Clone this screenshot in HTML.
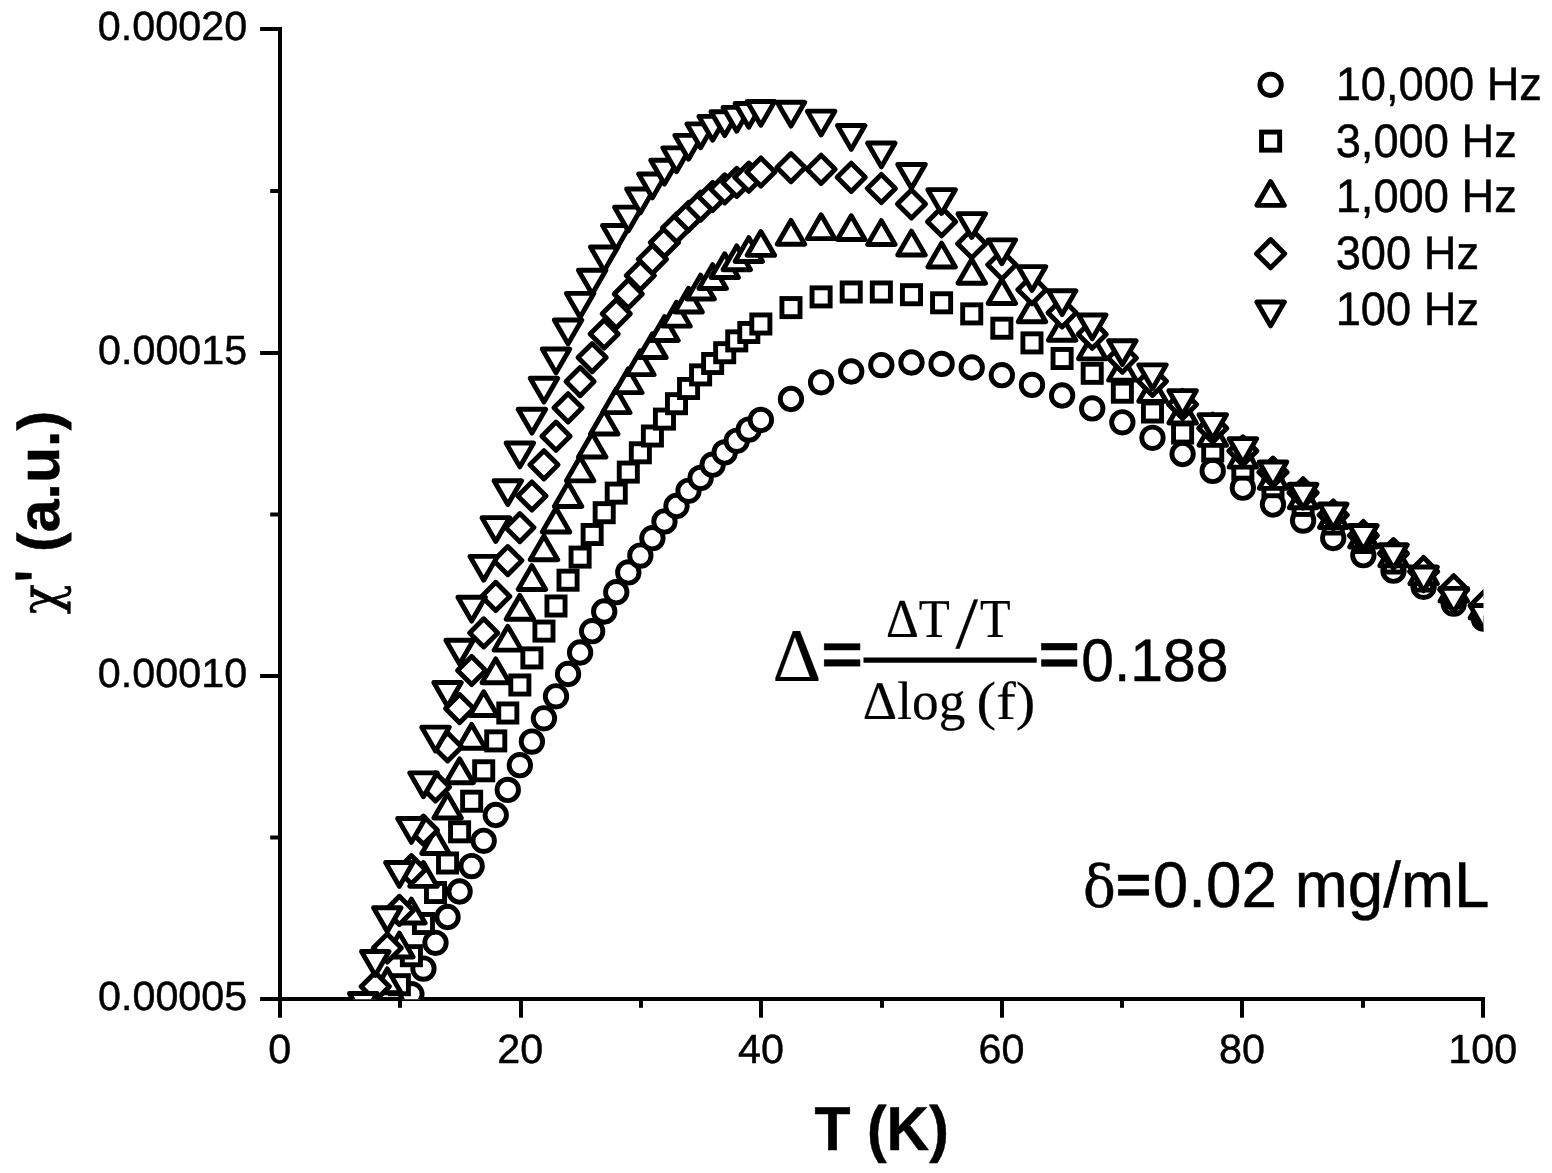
<!DOCTYPE html>
<html lang="en"><head><meta charset="utf-8"><title>AC susceptibility vs temperature</title>
<style>
html,body{margin:0;padding:0;background:#fff;}
body{width:1552px;height:1173px;overflow:hidden;}
svg{display:block;}
text{font-family:"Liberation Sans",sans-serif;fill:#000;stroke:#000;stroke-width:0.45px;stroke-linejoin:round;font-kerning:none;font-variant-ligatures:none;white-space:pre;}
text.b{font-weight:bold;}
text.sf{font-family:"Liberation Serif","DejaVu Serif",serif;stroke-width:0.2px;}
text.dj{font-family:"DejaVu Serif","Liberation Serif",serif;}
.mk{fill:#fff;stroke:#000;stroke-width:4.9;}
.ax{stroke:#000;stroke-width:4;fill:none;stroke-linecap:butt;}
</style></head><body>
<svg width="1552" height="1173" viewBox="0 0 1552 1173" role="img" aria-label="AC susceptibility versus temperature at five frequencies">
<rect width="1552" height="1173" fill="#fff"/>
<defs><clipPath id="plot"><rect x="280" y="0" width="1203.4" height="999.3"/></clipPath></defs>
<g class="ax">
<path d="M280 27V1001"/>
<path d="M278 999H1485"/>
<path d="M260.1 29H280"/>
<path d="M260.1 353H280"/>
<path d="M260.1 676H280"/>
<path d="M260.1 999H280"/>
<path d="M270.2 191H280"/>
<path d="M270.2 514.5H280"/>
<path d="M270.2 837.5H280"/>
<path d="M280 999V1017.7"/>
<path d="M521 999V1017.7"/>
<path d="M761 999V1017.7"/>
<path d="M1002 999V1017.7"/>
<path d="M1242 999V1017.7"/>
<path d="M1483 999V1017.7"/>
<path d="M400 999V1007.8"/>
<path d="M641 999V1007.8"/>
<path d="M882 999V1007.8"/>
<path d="M1122 999V1007.8"/>
<path d="M1363 999V1007.8"/>
</g>
<g clip-path="url(#plot)">
<g class="mk" id="s10000" stroke-linejoin="miter">
<circle cx="399.35" cy="1020" r="10.7"/>
<circle cx="411.4" cy="994.2" r="10.7"/>
<circle cx="423.45" cy="968.6" r="10.7"/>
<circle cx="435.5" cy="942.8" r="10.7"/>
<circle cx="447.55" cy="917" r="10.7"/>
<circle cx="459.6" cy="891.5" r="10.7"/>
<circle cx="471.65" cy="866.1" r="10.7"/>
<circle cx="483.7" cy="840.8" r="10.7"/>
<circle cx="495.75" cy="815" r="10.7"/>
<circle cx="507.8" cy="789.9" r="10.7"/>
<circle cx="519.85" cy="765.2" r="10.7"/>
<circle cx="531.9" cy="741.6" r="10.7"/>
<circle cx="543.95" cy="718.3" r="10.7"/>
<circle cx="556" cy="696.3" r="10.7"/>
<circle cx="568.05" cy="674" r="10.7"/>
<circle cx="580.1" cy="652.5" r="10.7"/>
<circle cx="592.15" cy="631.2" r="10.7"/>
<circle cx="604.2" cy="611.5" r="10.7"/>
<circle cx="616.25" cy="592.2" r="10.7"/>
<circle cx="628.3" cy="572.4" r="10.7"/>
<circle cx="640.35" cy="555.6" r="10.7"/>
<circle cx="652.4" cy="538.2" r="10.7"/>
<circle cx="664.45" cy="521.5" r="10.7"/>
<circle cx="676.5" cy="506" r="10.7"/>
<circle cx="688.55" cy="490.8" r="10.7"/>
<circle cx="700.6" cy="477.9" r="10.7"/>
<circle cx="712.65" cy="464.7" r="10.7"/>
<circle cx="724.7" cy="452.4" r="10.7"/>
<circle cx="736.75" cy="440.8" r="10.7"/>
<circle cx="748.8" cy="429.6" r="10.7"/>
<circle cx="760.85" cy="419.9" r="10.7"/>
<circle cx="790.98" cy="399" r="10.7"/>
<circle cx="821.1" cy="382.3" r="10.7"/>
<circle cx="851.23" cy="371.5" r="10.7"/>
<circle cx="881.35" cy="365.1" r="10.7"/>
<circle cx="911.48" cy="362.5" r="10.7"/>
<circle cx="941.6" cy="363.9" r="10.7"/>
<circle cx="971.73" cy="367.5" r="10.7"/>
<circle cx="1001.85" cy="375.2" r="10.7"/>
<circle cx="1031.97" cy="384.9" r="10.7"/>
<circle cx="1062.1" cy="395.5" r="10.7"/>
<circle cx="1092.22" cy="408.4" r="10.7"/>
<circle cx="1122.35" cy="422.3" r="10.7"/>
<circle cx="1152.47" cy="437.8" r="10.7"/>
<circle cx="1182.6" cy="454" r="10.7"/>
<circle cx="1212.72" cy="470.9" r="10.7"/>
<circle cx="1242.85" cy="487.7" r="10.7"/>
<circle cx="1272.98" cy="504.5" r="10.7"/>
<circle cx="1303.1" cy="520.6" r="10.7"/>
<circle cx="1333.22" cy="538" r="10.7"/>
<circle cx="1363.35" cy="555.2" r="10.7"/>
<circle cx="1393.47" cy="570.7" r="10.7"/>
<circle cx="1423.6" cy="586.8" r="10.7"/>
<circle cx="1453.72" cy="603.6" r="10.7"/>
<circle cx="1483.85" cy="618.6" r="10.7"/>
</g>
<g class="mk" id="s3000" stroke-linejoin="miter">
<rect x="378.25" y="1005.95" width="18.1" height="18.1"/>
<rect x="390.3" y="975.65" width="18.1" height="18.1"/>
<rect x="402.35" y="946.65" width="18.1" height="18.1"/>
<rect x="414.4" y="914.45" width="18.1" height="18.1"/>
<rect x="426.45" y="883.45" width="18.1" height="18.1"/>
<rect x="438.5" y="853.95" width="18.1" height="18.1"/>
<rect x="450.55" y="822.75" width="18.1" height="18.1"/>
<rect x="462.6" y="792.15" width="18.1" height="18.1"/>
<rect x="474.65" y="761.75" width="18.1" height="18.1"/>
<rect x="486.7" y="731.85" width="18.1" height="18.1"/>
<rect x="498.75" y="703.95" width="18.1" height="18.1"/>
<rect x="510.8" y="675.95" width="18.1" height="18.1"/>
<rect x="522.85" y="648.85" width="18.1" height="18.1"/>
<rect x="534.9" y="622.05" width="18.1" height="18.1"/>
<rect x="546.95" y="596.95" width="18.1" height="18.1"/>
<rect x="559" y="571.15" width="18.1" height="18.1"/>
<rect x="571.05" y="548.05" width="18.1" height="18.1"/>
<rect x="583.1" y="525.45" width="18.1" height="18.1"/>
<rect x="595.15" y="503.65" width="18.1" height="18.1"/>
<rect x="607.2" y="484.05" width="18.1" height="18.1"/>
<rect x="619.25" y="463.05" width="18.1" height="18.1"/>
<rect x="631.3" y="443.75" width="18.1" height="18.1"/>
<rect x="643.35" y="426.95" width="18.1" height="18.1"/>
<rect x="655.4" y="410.05" width="18.1" height="18.1"/>
<rect x="667.45" y="394.65" width="18.1" height="18.1"/>
<rect x="679.5" y="379.45" width="18.1" height="18.1"/>
<rect x="691.55" y="365.85" width="18.1" height="18.1"/>
<rect x="703.6" y="354.45" width="18.1" height="18.1"/>
<rect x="715.65" y="343.65" width="18.1" height="18.1"/>
<rect x="727.7" y="331.85" width="18.1" height="18.1"/>
<rect x="739.75" y="323.45" width="18.1" height="18.1"/>
<rect x="751.8" y="314.95" width="18.1" height="18.1"/>
<rect x="781.93" y="298.55" width="18.1" height="18.1"/>
<rect x="812.05" y="287.85" width="18.1" height="18.1"/>
<rect x="842.18" y="282.95" width="18.1" height="18.1"/>
<rect x="872.3" y="282.95" width="18.1" height="18.1"/>
<rect x="902.43" y="285.65" width="18.1" height="18.1"/>
<rect x="932.55" y="293.75" width="18.1" height="18.1"/>
<rect x="962.68" y="304.85" width="18.1" height="18.1"/>
<rect x="992.8" y="319.15" width="18.1" height="18.1"/>
<rect x="1022.92" y="333.85" width="18.1" height="18.1"/>
<rect x="1053.05" y="349.45" width="18.1" height="18.1"/>
<rect x="1083.17" y="364.25" width="18.1" height="18.1"/>
<rect x="1113.3" y="383.15" width="18.1" height="18.1"/>
<rect x="1143.42" y="402.95" width="18.1" height="18.1"/>
<rect x="1173.55" y="423.95" width="18.1" height="18.1"/>
<rect x="1203.67" y="441.95" width="18.1" height="18.1"/>
<rect x="1233.8" y="460.05" width="18.1" height="18.1"/>
<rect x="1263.93" y="477.65" width="18.1" height="18.1"/>
<rect x="1294.05" y="496.35" width="18.1" height="18.1"/>
<rect x="1324.17" y="514.95" width="18.1" height="18.1"/>
<rect x="1354.3" y="533.45" width="18.1" height="18.1"/>
<rect x="1384.42" y="553.95" width="18.1" height="18.1"/>
<rect x="1414.55" y="571.95" width="18.1" height="18.1"/>
<rect x="1444.67" y="588.95" width="18.1" height="18.1"/>
<rect x="1474.8" y="604.95" width="18.1" height="18.1"/>
</g>
<g class="mk" id="s1000" stroke-linejoin="round">
<path d="M375.25 1005.12L389 1028.94L361.5 1028.94Z"/>
<path d="M387.3 968.92L401.05 992.74L373.55 992.74Z"/>
<path d="M399.35 933.12L413.1 956.94L385.6 956.94Z"/>
<path d="M411.4 899.12L425.15 922.94L397.65 922.94Z"/>
<path d="M423.45 862.52L437.2 886.34L409.7 886.34Z"/>
<path d="M435.5 829.62L449.25 853.44L421.75 853.44Z"/>
<path d="M447.55 794.12L461.3 817.94L433.8 817.94Z"/>
<path d="M459.6 758.92L473.35 782.74L445.85 782.74Z"/>
<path d="M471.65 724.42L485.4 748.24L457.9 748.24Z"/>
<path d="M483.7 691.72L497.45 715.54L469.95 715.54Z"/>
<path d="M495.75 658.92L509.5 682.74L482 682.74Z"/>
<path d="M507.8 626.32L521.55 650.14L494.05 650.14Z"/>
<path d="M519.85 595.42L533.6 619.24L506.1 619.24Z"/>
<path d="M531.9 565.62L545.65 589.44L518.15 589.44Z"/>
<path d="M543.95 535.92L557.7 559.74L530.2 559.74Z"/>
<path d="M556 508.22L569.75 532.04L542.25 532.04Z"/>
<path d="M568.05 482.62L581.8 506.44L554.3 506.44Z"/>
<path d="M580.1 457.02L593.85 480.84L566.35 480.84Z"/>
<path d="M592.15 433.22L605.9 457.04L578.4 457.04Z"/>
<path d="M604.2 410.22L617.95 434.04L590.45 434.04Z"/>
<path d="M616.25 388.82L630 412.64L602.5 412.64Z"/>
<path d="M628.3 368.82L642.05 392.64L614.55 392.64Z"/>
<path d="M640.35 350.82L654.1 374.64L626.6 374.64Z"/>
<path d="M652.4 333.72L666.15 357.54L638.65 357.54Z"/>
<path d="M664.45 316.62L678.2 340.44L650.7 340.44Z"/>
<path d="M676.5 302.32L690.25 326.14L662.75 326.14Z"/>
<path d="M688.55 288.22L702.3 312.04L674.8 312.04Z"/>
<path d="M700.6 275.12L714.35 298.94L686.85 298.94Z"/>
<path d="M712.65 264.62L726.4 288.44L698.9 288.44Z"/>
<path d="M724.7 253.72L738.45 277.54L710.95 277.54Z"/>
<path d="M736.75 245.92L750.5 269.74L723 269.74Z"/>
<path d="M748.8 237.62L762.55 261.44L735.05 261.44Z"/>
<path d="M760.85 231.52L774.6 255.34L747.1 255.34Z"/>
<path d="M790.98 220.42L804.73 244.24L777.23 244.24Z"/>
<path d="M821.1 214.82L834.85 238.64L807.35 238.64Z"/>
<path d="M851.23 215.72L864.98 239.54L837.48 239.54Z"/>
<path d="M881.35 220.62L895.1 244.44L867.6 244.44Z"/>
<path d="M911.48 231.12L925.23 254.94L897.73 254.94Z"/>
<path d="M941.6 243.12L955.35 266.94L927.85 266.94Z"/>
<path d="M971.73 259.42L985.48 283.24L957.98 283.24Z"/>
<path d="M1001.85 279.62L1015.6 303.44L988.1 303.44Z"/>
<path d="M1031.97 297.92L1045.72 321.74L1018.22 321.74Z"/>
<path d="M1062.1 316.42L1075.85 340.24L1048.35 340.24Z"/>
<path d="M1092.22 335.02L1105.97 358.84L1078.47 358.84Z"/>
<path d="M1122.35 356.32L1136.1 380.14L1108.6 380.14Z"/>
<path d="M1152.47 377.52L1166.22 401.34L1138.72 401.34Z"/>
<path d="M1182.6 399.22L1196.35 423.04L1168.85 423.04Z"/>
<path d="M1212.72 421.52L1226.47 445.34L1198.97 445.34Z"/>
<path d="M1242.85 443.32L1256.6 467.14L1229.1 467.14Z"/>
<path d="M1272.98 464.52L1286.73 488.34L1259.23 488.34Z"/>
<path d="M1303.1 483.92L1316.85 507.74L1289.35 507.74Z"/>
<path d="M1333.22 503.72L1346.97 527.54L1319.47 527.54Z"/>
<path d="M1363.35 523.12L1377.1 546.94L1349.6 546.94Z"/>
<path d="M1393.47 541.92L1407.22 565.74L1379.72 565.74Z"/>
<path d="M1423.6 559.92L1437.35 583.74L1409.85 583.74Z"/>
<path d="M1453.72 577.32L1467.47 601.14L1439.97 601.14Z"/>
<path d="M1483.85 594.12L1497.6 617.94L1470.1 617.94Z"/>
</g>
<g class="mk" id="s300" stroke-linejoin="round">
<path d="M363.2 1011.9L377.3 1026L363.2 1040.1L349.1 1026Z"/>
<path d="M375.25 972.5L389.35 986.6L375.25 1000.7L361.15 986.6Z"/>
<path d="M387.3 933.9L401.4 948L387.3 962.1L373.2 948Z"/>
<path d="M399.35 896.3L413.45 910.4L399.35 924.5L385.25 910.4Z"/>
<path d="M411.4 855.6L425.5 869.7L411.4 883.8L397.3 869.7Z"/>
<path d="M423.45 816.1L437.55 830.2L423.45 844.3L409.35 830.2Z"/>
<path d="M435.5 772.8L449.6 786.9L435.5 801L421.4 786.9Z"/>
<path d="M447.55 732.8L461.65 746.9L447.55 761L433.45 746.9Z"/>
<path d="M459.6 694.5L473.7 708.6L459.6 722.7L445.5 708.6Z"/>
<path d="M471.65 656.4L485.75 670.5L471.65 684.6L457.55 670.5Z"/>
<path d="M483.7 618.8L497.8 632.9L483.7 647L469.6 632.9Z"/>
<path d="M495.75 582.3L509.85 596.4L495.75 610.5L481.65 596.4Z"/>
<path d="M507.8 546.5L521.9 560.6L507.8 574.7L493.7 560.6Z"/>
<path d="M519.85 513.5L533.95 527.6L519.85 541.7L505.75 527.6Z"/>
<path d="M531.9 481.9L546 496L531.9 510.1L517.8 496Z"/>
<path d="M543.95 450.7L558.05 464.8L543.95 478.9L529.85 464.8Z"/>
<path d="M556 422.1L570.1 436.2L556 450.3L541.9 436.2Z"/>
<path d="M568.05 393.7L582.15 407.8L568.05 421.9L553.95 407.8Z"/>
<path d="M580.1 367.5L594.2 381.6L580.1 395.7L566 381.6Z"/>
<path d="M592.15 343.5L606.25 357.6L592.15 371.7L578.05 357.6Z"/>
<path d="M604.2 319.9L618.3 334L604.2 348.1L590.1 334Z"/>
<path d="M616.25 299.7L630.35 313.8L616.25 327.9L602.15 313.8Z"/>
<path d="M628.3 279.8L642.4 293.9L628.3 308L614.2 293.9Z"/>
<path d="M640.35 261.5L654.45 275.6L640.35 289.7L626.25 275.6Z"/>
<path d="M652.4 245.2L666.5 259.3L652.4 273.4L638.3 259.3Z"/>
<path d="M664.45 228.4L678.55 242.5L664.45 256.6L650.35 242.5Z"/>
<path d="M676.5 213.9L690.6 228L676.5 242.1L662.4 228Z"/>
<path d="M688.55 202.4L702.65 216.5L688.55 230.6L674.45 216.5Z"/>
<path d="M700.6 192L714.7 206.1L700.6 220.2L686.5 206.1Z"/>
<path d="M712.65 182.4L726.75 196.5L712.65 210.6L698.55 196.5Z"/>
<path d="M724.7 174.8L738.8 188.9L724.7 203L710.6 188.9Z"/>
<path d="M736.75 168.3L750.85 182.4L736.75 196.5L722.65 182.4Z"/>
<path d="M748.8 163.1L762.9 177.2L748.8 191.3L734.7 177.2Z"/>
<path d="M760.85 157.9L774.95 172L760.85 186.1L746.75 172Z"/>
<path d="M790.98 153.5L805.08 167.6L790.98 181.7L776.88 167.6Z"/>
<path d="M821.1 155.2L835.2 169.3L821.1 183.4L807 169.3Z"/>
<path d="M851.23 163.2L865.33 177.3L851.23 191.4L837.12 177.3Z"/>
<path d="M881.35 174.4L895.45 188.5L881.35 202.6L867.25 188.5Z"/>
<path d="M911.48 189.9L925.58 204L911.48 218.1L897.38 204Z"/>
<path d="M941.6 207.6L955.7 221.7L941.6 235.8L927.5 221.7Z"/>
<path d="M971.73 229.6L985.83 243.7L971.73 257.8L957.62 243.7Z"/>
<path d="M1001.85 250.7L1015.95 264.8L1001.85 278.9L987.75 264.8Z"/>
<path d="M1031.97 275.6L1046.07 289.7L1031.97 303.8L1017.87 289.7Z"/>
<path d="M1062.1 298.7L1076.2 312.8L1062.1 326.9L1048 312.8Z"/>
<path d="M1092.22 320.1L1106.32 334.2L1092.22 348.3L1078.12 334.2Z"/>
<path d="M1122.35 344L1136.45 358.1L1122.35 372.2L1108.25 358.1Z"/>
<path d="M1152.47 367.2L1166.57 381.3L1152.47 395.4L1138.38 381.3Z"/>
<path d="M1182.6 390.4L1196.7 404.5L1182.6 418.6L1168.5 404.5Z"/>
<path d="M1212.72 414.1L1226.82 428.2L1212.72 442.3L1198.62 428.2Z"/>
<path d="M1242.85 436.8L1256.95 450.9L1242.85 465L1228.75 450.9Z"/>
<path d="M1272.98 458.1L1287.08 472.2L1272.98 486.3L1258.88 472.2Z"/>
<path d="M1303.1 478.7L1317.2 492.8L1303.1 506.9L1289 492.8Z"/>
<path d="M1333.22 500.9L1347.32 515L1333.22 529.1L1319.12 515Z"/>
<path d="M1363.35 521.4L1377.45 535.5L1363.35 549.6L1349.25 535.5Z"/>
<path d="M1393.47 539.5L1407.57 553.6L1393.47 567.7L1379.38 553.6Z"/>
<path d="M1423.6 557.4L1437.7 571.5L1423.6 585.6L1409.5 571.5Z"/>
<path d="M1453.72 575.7L1467.82 589.8L1453.72 603.9L1439.62 589.8Z"/>
<path d="M1484.35 591.5L1498.45 605.6L1484.35 619.7L1470.25 605.6Z"/>
</g>
<g class="mk" id="s100" stroke-linejoin="round">
<path d="M363.2 1017.28L376.95 993.46L349.45 993.46Z"/>
<path d="M375.25 975.38L389 951.56L361.5 951.56Z"/>
<path d="M387.3 931.58L401.05 907.76L373.55 907.76Z"/>
<path d="M399.35 886.38L413.1 862.56L385.6 862.56Z"/>
<path d="M411.4 842.38L425.15 818.56L397.65 818.56Z"/>
<path d="M423.45 796.68L437.2 772.86L409.7 772.86Z"/>
<path d="M435.5 750.98L449.25 727.16L421.75 727.16Z"/>
<path d="M447.55 706.38L461.3 682.56L433.8 682.56Z"/>
<path d="M459.6 664.08L473.35 640.26L445.85 640.26Z"/>
<path d="M471.65 621.08L485.4 597.26L457.9 597.26Z"/>
<path d="M483.7 580.18L497.45 556.36L469.95 556.36Z"/>
<path d="M495.75 541.48L509.5 517.66L482 517.66Z"/>
<path d="M507.8 504.58L521.55 480.76L494.05 480.76Z"/>
<path d="M519.85 466.88L533.6 443.06L506.1 443.06Z"/>
<path d="M531.9 433.08L545.65 409.26L518.15 409.26Z"/>
<path d="M543.95 402.08L557.7 378.26L530.2 378.26Z"/>
<path d="M556 372.88L569.75 349.06L542.25 349.06Z"/>
<path d="M568.05 343.88L581.8 320.06L554.3 320.06Z"/>
<path d="M580.1 317.18L593.85 293.36L566.35 293.36Z"/>
<path d="M592.15 294.08L605.9 270.26L578.4 270.26Z"/>
<path d="M604.2 270.88L617.95 247.06L590.45 247.06Z"/>
<path d="M616.25 249.38L630 225.56L602.5 225.56Z"/>
<path d="M628.3 230.98L642.05 207.16L614.55 207.16Z"/>
<path d="M640.35 212.88L654.1 189.06L626.6 189.06Z"/>
<path d="M652.4 197.88L666.15 174.06L638.65 174.06Z"/>
<path d="M664.45 184.08L678.2 160.26L650.7 160.26Z"/>
<path d="M676.5 171.68L690.25 147.86L662.75 147.86Z"/>
<path d="M688.55 159.18L702.3 135.36L674.8 135.36Z"/>
<path d="M700.6 147.68L714.35 123.86L686.85 123.86Z"/>
<path d="M712.65 140.18L726.4 116.36L698.9 116.36Z"/>
<path d="M724.7 135.58L738.45 111.76L710.95 111.76Z"/>
<path d="M736.75 131.18L750.5 107.36L723 107.36Z"/>
<path d="M748.8 127.28L762.55 103.46L735.05 103.46Z"/>
<path d="M760.85 125.28L774.6 101.46L747.1 101.46Z"/>
<path d="M790.98 126.08L804.73 102.26L777.23 102.26Z"/>
<path d="M821.1 134.98L834.85 111.16L807.35 111.16Z"/>
<path d="M851.23 149.38L864.98 125.56L837.48 125.56Z"/>
<path d="M881.35 166.88L895.1 143.06L867.6 143.06Z"/>
<path d="M911.48 188.28L925.23 164.46L897.73 164.46Z"/>
<path d="M941.6 213.48L955.35 189.66L927.85 189.66Z"/>
<path d="M971.73 237.48L985.48 213.66L957.98 213.66Z"/>
<path d="M1001.85 263.68L1015.6 239.86L988.1 239.86Z"/>
<path d="M1031.97 290.48L1045.72 266.66L1018.22 266.66Z"/>
<path d="M1062.1 314.58L1075.85 290.76L1048.35 290.76Z"/>
<path d="M1092.22 338.78L1105.97 314.96L1078.47 314.96Z"/>
<path d="M1122.35 364.58L1136.1 340.76L1108.6 340.76Z"/>
<path d="M1152.47 388.68L1166.22 364.86L1138.72 364.86Z"/>
<path d="M1182.6 414.48L1196.35 390.66L1168.85 390.66Z"/>
<path d="M1212.72 438.48L1226.47 414.66L1198.97 414.66Z"/>
<path d="M1242.85 462.48L1256.6 438.66L1229.1 438.66Z"/>
<path d="M1272.98 485.78L1286.73 461.96L1259.23 461.96Z"/>
<path d="M1303.1 508.08L1316.85 484.26L1289.35 484.26Z"/>
<path d="M1333.22 527.88L1346.97 504.06L1319.47 504.06Z"/>
<path d="M1363.35 549.38L1377.1 525.56L1349.6 525.56Z"/>
<path d="M1393.47 568.58L1407.22 544.76L1379.72 544.76Z"/>
<path d="M1423.6 590.88L1437.35 567.06L1409.85 567.06Z"/>
<path d="M1453.72 612.18L1467.47 588.36L1439.97 588.36Z"/>
<path d="M1483.85 629.28L1497.6 605.46L1470.1 605.46Z"/>
</g>
</g>
<g id="yticks">
<text transform="translate(97.87 40.15) skewX(0.05) scale(1.0122 1)" font-size="40.82">0.00020</text>
<text transform="translate(97.99 364.15) skewX(0.05) scale(1.0122 1)" font-size="40.82">0.00015</text>
<text transform="translate(97.87 687.15) skewX(0.05) scale(1.0122 1)" font-size="40.82">0.00010</text>
<text transform="translate(97.99 1010.15) skewX(0.05) scale(1.0122 1)" font-size="40.82">0.00005</text>
</g><g id="xticks">
<text transform="translate(268.21 1062.9) skewX(0.05) scale(1.0122 1)" font-size="40.82">0</text>
<text transform="translate(497.32 1062.9) skewX(0.05) scale(1.0122 1)" font-size="40.82">20</text>
<text transform="translate(737.92 1062.9) skewX(0.05) scale(1.0122 1)" font-size="40.82">40</text>
<text transform="translate(978.52 1062.9) skewX(0.05) scale(1.0122 1)" font-size="40.82">60</text>
<text transform="translate(1219.12 1062.9) skewX(0.05) scale(1.0122 1)" font-size="40.82">80</text>
<text transform="translate(1448.23 1062.9) skewX(0.05) scale(1.0122 1)" font-size="40.82">100</text>
</g>
<text class="b" transform="translate(814.54 1150.4) skewX(0.05) scale(0.9468 1)" font-size="62.3">T (K)</text>
<g id="ytitle">
<text class="dj" transform="translate(59.48 614.31) rotate(-90) skewX(0.05) scale(0.9107 1)" font-size="54.54">χ</text>
<text class="b" transform="translate(58.99 582.17) rotate(-90) skewX(0.05) scale(0.8257 1)" font-size="62.92">&#39;</text>
<text class="b" transform="translate(59.4 551.94) rotate(-90) skewX(0.05) scale(1.0053 1)" font-size="58.8">(a.u.)</text>
</g>
<g class="mk">
<g stroke-linejoin="miter"><circle cx="1270.6" cy="84.8" r="10.7"/><rect x="1261.55" y="132.05" width="18.1" height="18.1"/></g>
<g stroke-linejoin="round"><path d="M1270.6 181.52L1284.35 205.34L1256.85 205.34Z"/><path d="M1270.6 239.6L1284.7 253.7L1270.6 267.8L1256.5 253.7Z"/><path d="M1270.6 325.88L1284.35 302.06L1256.85 302.06Z"/></g>
</g>
<g id="legend">
<text transform="translate(1335.65 99.7) skewX(0.05) scale(0.9674 1)" font-size="46.8">10,000 Hz</text>
<text transform="translate(1335.65 156.6) skewX(0.05) scale(0.9674 1)" font-size="46.8">3,000 Hz</text>
<text transform="translate(1335.65 211.7) skewX(0.05) scale(0.9674 1)" font-size="46.8">1,000 Hz</text>
<text transform="translate(1335.65 268.6) skewX(0.05) scale(0.9674 1)" font-size="46.8">300 Hz</text>
<text transform="translate(1335.65 324.9) skewX(0.05) scale(0.9674 1)" font-size="46.8">100 Hz</text>
</g>
<g id="formula">
<text class="sf" transform="translate(772.51 681.1) skewX(0.05) scale(1.0026 1)" font-size="75.59">Δ</text>
<text class="b" transform="translate(821.24 674.65) skewX(0.05) scale(1.1731 1)" font-size="60.86">=</text>
<text class="sf" transform="translate(885.96 637) skewX(0.05) scale(0.9317 1)" font-size="54.68">ΔT</text>
<text class="sf" transform="translate(955.6 648.08) skewX(0.05) scale(1.1033 1)" font-size="73.4">/</text>
<text class="sf" transform="translate(980.09 637) skewX(0.05) scale(0.9123 1)" font-size="54.98">T</text>
<path class="ax" style="stroke-width:5.2" d="M863.5 660.2H1036.7"/>
<text class="sf" transform="translate(862.87 719.2) skewX(0.05) scale(0.9851 1)" font-size="54.2">Δlog</text>
<text class="sf" transform="translate(976.61 719.45) skewX(0.05) scale(1.0942 1)" font-size="53.76">(f)</text>
<text class="b" transform="translate(1038.55 674.65) skewX(0.05) scale(1.1665 1)" font-size="60.86">=</text>
<text transform="translate(1081.3 680.81) skewX(0.05) scale(0.9803 1)" font-size="60.03">0.188</text>
</g>
<g id="conc">
<text class="dj" transform="translate(1082.88 907.28) skewX(0.05) scale(0.937 1)" font-size="58.26">δ</text>
<text class="b" transform="translate(1115.68 902.57) skewX(0.05) scale(1.1268 1)" font-size="53.98">=</text>
<text transform="translate(1152.81 906.7) skewX(0.05) scale(0.9874 1)" font-size="64.6">0.02 mg/mL</text>
</g>
</svg>
</body></html>
